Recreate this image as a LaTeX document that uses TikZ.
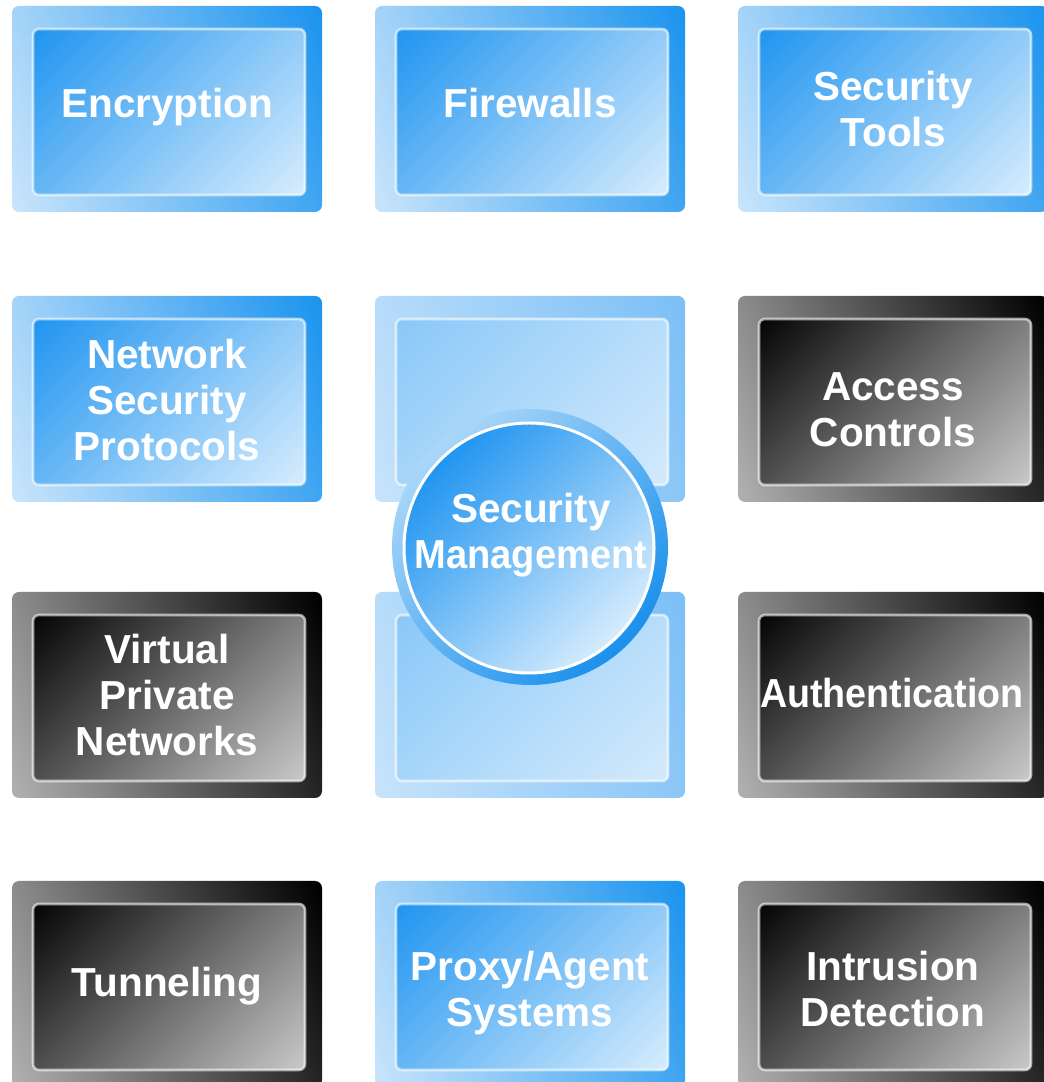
\documentclass[tikz,border=0pt]{standalone}
\usepackage{fontspec}
\setmainfont{Liberation Sans}
\usepackage{graphicx}

% palette
\definecolor{bluedeep}{HTML}{1C94EE}
\definecolor{bluepale}{HTML}{C8E4FB}
\definecolor{blueinnerdeep}{HTML}{2195F0}
\definecolor{blueinnerpale}{HTML}{D6ECFD}
\definecolor{softouterpale}{HTML}{C6E3FB}
\definecolor{softouterdeep}{HTML}{7CBFF6}
\definecolor{softinnerdeep}{HTML}{8AC8F8}
\definecolor{softinnerpale}{HTML}{D3EAFC}
\definecolor{greylight}{HTML}{B0B0B0}
\definecolor{greyinnerdark}{HTML}{050505}
\definecolor{greyinnerpale}{HTML}{C8C8C8}
\definecolor{ringpale}{HTML}{AAD7FA}
\definecolor{ringdeep}{HTML}{1A90EC}

% left-to-right blends; the band is widened so that a rotated blend
% runs from corner to corner of the filled box
\pgfdeclarehorizontalshading{blueoutershade}{100bp}{color(0bp)=(bluepale);
  color(18bp)=(bluepale); color(82bp)=(bluedeep); color(100bp)=(bluedeep)}
\pgfdeclarehorizontalshading{softoutershade}{100bp}{color(0bp)=(softouterpale);
  color(18bp)=(softouterpale); color(82bp)=(softouterdeep); color(100bp)=(softouterdeep)}
\pgfdeclarehorizontalshading{greyoutershade}{100bp}{color(0bp)=(greylight);
  color(18bp)=(greylight); color(82bp)=(black); color(100bp)=(black)}
\pgfdeclarehorizontalshading{blueinnershade}{100bp}{color(0bp)=(blueinnerdeep);
  color(15bp)=(blueinnerdeep); color(85bp)=(blueinnerpale); color(100bp)=(blueinnerpale)}
\pgfdeclarehorizontalshading{softinnershade}{100bp}{color(0bp)=(softinnerdeep);
  color(15bp)=(softinnerdeep); color(85bp)=(softinnerpale); color(100bp)=(softinnerpale)}
\pgfdeclarehorizontalshading{greyinnershade}{100bp}{color(0bp)=(greyinnerdark);
  color(15bp)=(greyinnerdark); color(85bp)=(greyinnerpale); color(100bp)=(greyinnerpale)}
\pgfdeclarehorizontalshading{ringshade}{100bp}{color(0bp)=(ringpale);
  color(25bp)=(ringpale); color(75bp)=(ringdeep); color(100bp)=(ringdeep)}
\pgfdeclarehorizontalshading{hubshade}{100bp}{color(0bp)=(blueinnerdeep);
  color(25bp)=(blueinnerdeep); color(75bp)=(blueinnerpale); color(100bp)=(blueinnerpale)}

\tikzset{
  outerpanel/.style={rectangle, rounded corners=7pt, minimum width=310pt,
    minimum height=206pt, inner sep=0pt, shade, shading angle=22},
  innerpanel/.style={rectangle, rounded corners=6pt, minimum width=272pt,
    minimum height=166pt, inner sep=0pt, draw=white, draw opacity=0.6,
    line width=2.6pt, shade, shading angle=-45},
  blueouter/.style={outerpanel, shading=blueoutershade},
  blueinner/.style={innerpanel, shading=blueinnershade},
  softouter/.style={outerpanel, shading=softoutershade},
  softinner/.style={innerpanel, shading=softinnershade},
  greyouter/.style={outerpanel, shading=greyoutershade},
  greyinner/.style={innerpanel, shading=greyinnershade},
  label/.style={text=white, align=center, anchor=base, inner sep=0pt,
    font=\fontsize{40.5}{46.3}\selectfont\bfseries},
}

% #1 name, #2 kind (blue/soft/grey), #3 x centre, #4 y centre
\newcommand\panel[4]{%
  \node[#2outer] (#1-o) at (#3,#4) {};
  \node[#2inner] (#1-i) at (#3+2,#4-3) {};
}

\begin{document}
\begin{tikzpicture}[x=1pt,y=1pt]
  \useasboundingbox (0,0) rectangle (1044,1082);
  \clip (0,0) rectangle (1044,1082);
  \fill[white] (0,0) rectangle (1044,1082);

  % grid of panels: columns at 167 / 530 / 893, rows at 973 / 683 / 387 / 98
  \panel{enc}{blue}{167}{973}
  \panel{fw}{blue}{530}{973}
  \panel{st}{blue}{893}{973}
  \panel{nsp}{blue}{167}{683}
  \panel{ctop}{soft}{530}{683}
  \panel{ac}{grey}{893}{683}
  \panel{vpn}{grey}{167}{387}
  \panel{cbot}{soft}{530}{387}
  \panel{auth}{grey}{893}{387}
  \panel{tun}{grey}{167}{98}
  \panel{pa}{blue}{530}{98}
  \panel{id}{grey}{893}{98}

  % central hub
  \node[circle, minimum size=276pt, inner sep=0pt, shade, shading=ringshade,
    shading angle=-45] (sm-o) at (530,535) {};
  \node[circle, minimum size=250pt, inner sep=0pt, draw=white,
    line width=3pt, shade, shading=hubshade, shading angle=-45]
    (sm-i) at (529,534) {};

  % captions (anchored on the baseline of their last line)
  \node[label] (enc-t) at (167,964) {Encryption};
  \node[label] (fw-t) at (530,964) {Firewalls};
  \node[label] (st-t) at (893,935) {Security\\Tools};
  \node[label] (nsp-t) at (167,621) {Network\\Security\\Protocols};
  \node[label] (ac-t) at (893,635) {Access\\Controls};
  \node[label] (vpn-t) at (167,326) {Virtual\\Private\\Networks};
  \node[label] (auth-t) at (892,374) {\scalebox{0.93}[1]{Authentication}};
  \node[label] (sm-t) at (531,513) {Security\\\scalebox{0.94}[1]{Management}};
  \node[label] (tun-t) at (167,85) {Tunneling};
  \node[label] (pa-t) at (530,55) {Proxy/Agent\\Systems};
  \node[label] (id-t) at (893,55) {Intrusion\\Detection};
\end{tikzpicture}
\end{document}
